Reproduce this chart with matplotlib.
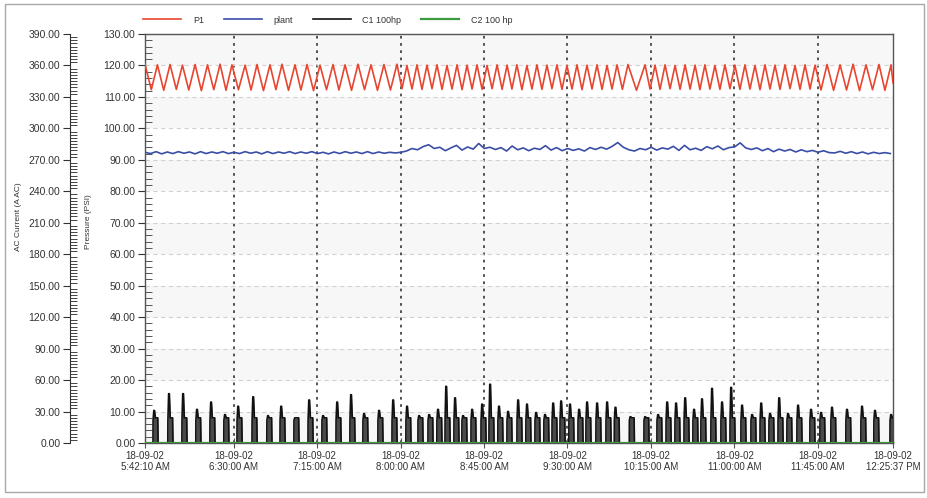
"""Compressor trend: P1 / plant pressure and C1 / C2 current, 18-09-02 morning."""

import numpy as np
import pandas as pd
import matplotlib
matplotlib.use("Agg")
import matplotlib.pyplot as plt
from matplotlib.patches import Rectangle
from matplotlib.ticker import MultipleLocator, FormatStrFormatter

plt.rcParams["font.family"] = ["Liberation Sans", "DejaVu Sans"]

DAY = "2018-09-02 "
START = "05:42:10"
END = "12:25:37"
TICK_TIMES = ["05:42:10", "06:30:00", "07:15:00", "08:00:00", "08:45:00",
              "09:30:00", "10:15:00", "11:00:00", "11:45:00", "12:25:37"]
TICK_LABELS = ["18-09-02\n5:42:10 AM", "18-09-02\n6:30:00 AM", "18-09-02\n7:15:00 AM",
               "18-09-02\n8:00:00 AM", "18-09-02\n8:45:00 AM", "18-09-02\n9:30:00 AM",
               "18-09-02\n10:15:00 AM", "18-09-02\n11:00:00 AM", "18-09-02\n11:45:00 AM",
               "18-09-02\n12:25:37 PM"]

# P1 pressure (PSI) turning points: (minutes after start, value)
P1_POINTS = [
    (0.0, 120.4), (3.4, 112.3), (6.7, 120.2), (10.1, 112.1), (13.5, 120.3), (16.9, 112.4),
    (20.2, 120.1), (23.6, 112.2), (27.0, 120.3), (30.4, 112.0), (33.7, 120.2), (37.1, 112.3),
    (40.5, 120.4), (43.7, 112.1), (46.9, 120.2), (50.4, 112.3), (54.0, 120.1), (57.2, 112.2),
    (60.4, 120.3), (63.9, 112.0), (67.4, 120.2), (70.6, 112.3), (73.9, 120.4), (77.4, 112.1),
    (80.9, 120.2), (84.1, 112.2), (87.4, 120.3), (90.9, 112.0), (94.4, 120.1), (97.9, 112.3),
    (101.4, 120.3), (104.6, 112.2), (107.9, 120.2), (111.4, 112.1), (114.9, 120.4), (118.4, 112.3),
    (121.9, 120.2), (125.4, 112.1), (128.9, 120.3), (132.4, 112.2), (135.9, 120.4), (138.6, 112.6),
    (141.3, 120.0), (144.0, 112.5), (146.7, 120.2), (149.4, 112.4), (152.1, 120.1), (154.8, 112.6),
    (157.5, 120.2), (160.2, 112.4), (162.9, 120.0), (165.6, 112.5), (168.3, 120.2), (171.0, 112.3),
    (173.7, 120.1), (176.4, 112.5), (179.1, 120.2), (181.8, 112.4), (184.5, 120.0), (187.2, 112.6),
    (189.9, 120.2), (192.6, 112.4), (195.3, 120.1), (197.9, 112.5), (200.6, 120.2), (203.3, 112.3),
    (206.0, 120.0), (208.7, 112.5), (211.4, 120.2), (214.1, 112.4), (216.8, 120.1), (219.5, 112.6),
    (222.2, 120.2), (224.9, 112.4), (227.6, 120.0), (230.3, 112.5), (233.0, 120.2), (235.7, 112.3),
    (238.4, 120.1), (241.1, 112.5), (243.8, 120.2), (246.5, 112.4), (249.2, 120.0), (251.9, 112.5),
    (254.6, 120.2), (257.5, 112.4), (260.5, 120.3), (265.1, 112.1), (269.7, 120.2), (272.4, 112.5),
    (275.1, 120.1), (277.8, 112.4), (280.5, 120.2), (283.2, 112.6), (285.9, 120.0), (288.6, 112.4),
    (291.3, 120.2), (294.0, 112.5), (296.7, 120.1), (299.3, 112.3), (302.0, 120.2), (304.7, 112.5),
    (307.4, 120.0), (310.1, 112.4), (312.8, 120.2), (315.5, 112.6), (318.2, 120.1), (320.9, 112.4),
    (323.6, 120.2), (326.3, 112.5), (329.0, 120.0), (331.7, 112.3), (334.4, 120.2), (337.1, 112.5),
    (339.8, 120.1), (342.5, 112.4), (345.2, 120.2), (347.9, 112.6), (350.6, 120.0), (353.3, 112.4),
    (356.0, 120.2), (358.7, 112.5), (361.4, 120.1), (364.6, 112.2), (367.9, 120.3), (371.4, 112.1),
    (374.9, 120.2), (378.4, 112.2), (381.9, 120.4), (385.4, 112.0), (388.9, 120.2), (392.4, 112.3),
    (395.9, 120.3), (399.1, 112.1), (402.4, 120.2), (403.45, 114.5),
]

# plant pressure (PSI), one sample every 3 minutes
PLANT_STEP = 3
PLANT_V = [
    92.4, 92.0, 92.6, 91.9, 92.5, 92.0, 92.6, 92.1, 92.5, 91.9,
    92.6, 92.0, 92.5, 92.1, 92.6, 92.0, 92.4, 92.0, 92.6, 92.1,
    92.5, 91.9, 92.6, 92.0, 92.5, 92.1, 92.6, 92.0, 92.5, 92.1,
    92.6, 92.0, 92.4, 91.9, 92.5, 92.0, 92.6, 92.1, 92.5, 92.0,
    92.6, 92.0, 92.5, 92.1, 92.4, 92.2,
    92.4, 92.8, 93.6, 93.2, 94.2, 94.8, 93.6, 94.0, 92.9, 93.8,
    94.6, 93.1, 94.1, 93.4, 95.2, 93.6, 94.0, 93.3, 93.9, 92.8,
    94.4, 93.2, 93.8, 92.9, 93.7, 93.3, 94.5, 93.1, 93.9, 92.9,
    93.6, 93.0, 93.5, 92.8, 93.9, 93.3, 94.0, 93.4, 94.3, 95.5,
    94.0, 93.2, 92.8, 93.6, 93.2, 94.0, 93.1, 93.8, 93.4, 94.3,
    93.0, 94.6, 93.2, 93.7, 93.0, 94.2, 93.5, 94.4, 93.2, 93.9,
    94.1, 95.4, 93.8, 93.3, 93.8, 92.9, 93.6, 92.6, 93.4, 92.8,
    93.3, 92.5, 93.2, 92.6, 93.0, 92.4, 92.9, 92.3,
    92.2, 92.7, 92.1, 92.6, 92.0, 92.5, 91.9, 92.4, 92.0, 92.3, 92.0,
]

# C1 100hp current (A AC): start time of each loaded run and its peak
C1_T = [4.9, 12.9, 20.5, 28.0, 35.6, 43.1, 50.2, 58.3, 66.3, 73.4, 80.9, 88.5, 96.0,
        103.6, 111.1, 118.1, 126.2, 133.8, 141.3, 147.8, 153.2, 158.0, 162.4, 167.2,
        171.5, 176.4, 181.8, 186.1, 190.9, 195.8, 201.2, 206.0, 210.9, 215.7, 220.1,
        224.4, 229.2, 234.1, 238.4, 243.8, 249.2, 253.7, 261.8, 269.7, 276.7, 281.6,
        286.4, 291.3, 296.1, 300.4, 305.8, 311.2, 316.1, 322.0, 327.4, 332.3, 337.1,
        342.0, 346.8, 352.2, 359.2, 364.6, 370.5, 378.6, 386.7, 393.7, 402.4]
C1_PEAK = [31, 47, 47, 32, 39, 27, 35, 44, 26, 35, 24, 41, 26,
           39, 46, 28, 31, 41, 35, 26, 27, 32, 54, 43,
           26, 32, 37, 56, 35, 30, 41, 37, 29, 27, 38,
           40, 37, 32, 39, 38, 39, 34, 25, 25, 27, 39,
           38, 43, 32, 42, 52, 39, 53, 36, 27, 38, 28,
           43, 28, 36, 32, 29, 34, 32, 35, 31, 27]
C1_HOLD = 24      # level held after the start spike

# C2 100 hp current (A AC): off for the whole period
C2_T = [0.0, 403.45]
C2_V = [0.0, 0.0]


def minutes(t):
    return (pd.Timestamp(DAY + t) - pd.Timestamp(DAY + START)).total_seconds() / 60.0


t_end = minutes(END)
tick_pos = [minutes(t) for t in TICK_TIMES]

p1_t = [p[0] for p in P1_POINTS]
p1_v = [p[1] for p in P1_POINTS]
plant_t = np.arange(len(PLANT_V)) * PLANT_STEP

# each run: short inrush spike, then a loaded plateau, then off
c1_x, c1_y = [0.0], [0.0]
for t, pk in zip(C1_T, C1_PEAK):
    hold = min(C1_HOLD, pk)
    c1_x += [t - 0.6, t - 0.55, t - 0.15, t + 0.25, t + 0.7, t + 2.0, t + 2.2]
    c1_y += [0, hold * 0.9, pk, pk, hold, hold, 0]
c1_x.append(t_end)
c1_y.append(0)

fig = plt.figure(figsize=(9.27, 4.98), dpi=100)
fig.patches.append(Rectangle((5 / 927, 6 / 498), 919 / 927, 488 / 498,
                             transform=fig.transFigure, fill=False,
                             edgecolor="#a8a8a8", linewidth=1.0))

ax = fig.add_axes([145 / 927, 1 - 443 / 498, 748 / 927, 409 / 498])
ax.set_facecolor("white")
for lo in range(0, 130, 20):
    ax.axhspan(lo, lo + 10, color="#f7f7f7", zorder=0, linewidth=0)

ax.set_xlim(0, t_end)
ax.set_ylim(0, 130)
ax.yaxis.set_major_locator(MultipleLocator(10))
ax.yaxis.set_minor_locator(MultipleLocator(2))
ax.yaxis.set_major_formatter(FormatStrFormatter("%.2f"))
ax.set_xticks(tick_pos)
ax.set_xticklabels(TICK_LABELS, fontsize=7, color="#333333", linespacing=1.15)
ax.tick_params(axis="y", which="major", direction="out", length=5, width=0.8,
               labelsize=7.5, colors="#333333", pad=2)
ax.tick_params(axis="y", which="minor", direction="in", length=5, width=0.7, color="#555555")
ax.tick_params(axis="x", which="major", direction="inout", length=7, width=0.8,
               color="#555555", pad=2)

ax.grid(axis="y", color="#d2d2d2", linestyle=(0, (4, 3)), linewidth=0.8, zorder=1)
for xp in tick_pos[1:-1]:
    ax.axvline(xp, color="#444444", linestyle=(0, (1.5, 2.5)), linewidth=1.3, zorder=1)

for side in ["top", "right", "left", "bottom"]:
    ax.spines[side].set_color("#555555")
    ax.spines[side].set_linewidth(1.0)

ax.plot(p1_t, p1_v, color="#e8452f", linewidth=1.2, label="P1", zorder=3)
ax.plot(plant_t, PLANT_V, color="#3b4ea6", linewidth=1.2, label="plant", zorder=3)

ax2 = ax.twinx()
ax2.set_ylim(0, 390)
ax2.yaxis.set_ticks_position("left")
ax2.spines["left"].set_position(("axes", -0.1003))
ax2.spines["left"].set_color("#333333")
for side in ["top", "right", "bottom"]:
    ax2.spines[side].set_visible(False)
ax2.yaxis.set_major_locator(MultipleLocator(30))
ax2.yaxis.set_minor_locator(MultipleLocator(3))
ax2.yaxis.set_major_formatter(FormatStrFormatter("%.2f"))
ax2.tick_params(axis="y", which="major", direction="out", length=5, width=0.8,
                labelsize=7.5, colors="#333333", pad=2)
ax2.tick_params(axis="y", which="minor", direction="in", length=5, width=0.7, color="#444444")

ax2.fill_between(c1_x, c1_y, color="#4a4a4a", linewidth=0, zorder=2)
ax2.plot(c1_x, c1_y, color="#111111", linewidth=1.2, label="C1 100hp", zorder=3)
ax2.plot(C2_T, C2_V, color="#3f9a3f", linewidth=1.6, label="C2 100 hp", zorder=4)

fig.text(19 / 927, 1 - 217 / 498, "AC Current (A AC)", rotation=90, fontsize=6,
         color="#333333", ha="center", va="center")
fig.text(88 / 927, 1 - 222 / 498, "Pressure (PSI)", rotation=90, fontsize=6,
         color="#333333", ha="center", va="center")

h1, l1 = ax.get_legend_handles_labels()
h2, l2 = ax2.get_legend_handles_labels()
fig.legend(h1 + h2, l1 + l2, loc="center left", bbox_to_anchor=(135 / 927, 1 - 20 / 498),
           ncol=4, frameon=False, fontsize=6.5, handlelength=4.2, handletextpad=1.3,
           columnspacing=2.2, labelcolor="#333333")

fig.savefig("out.png", dpi=100)
